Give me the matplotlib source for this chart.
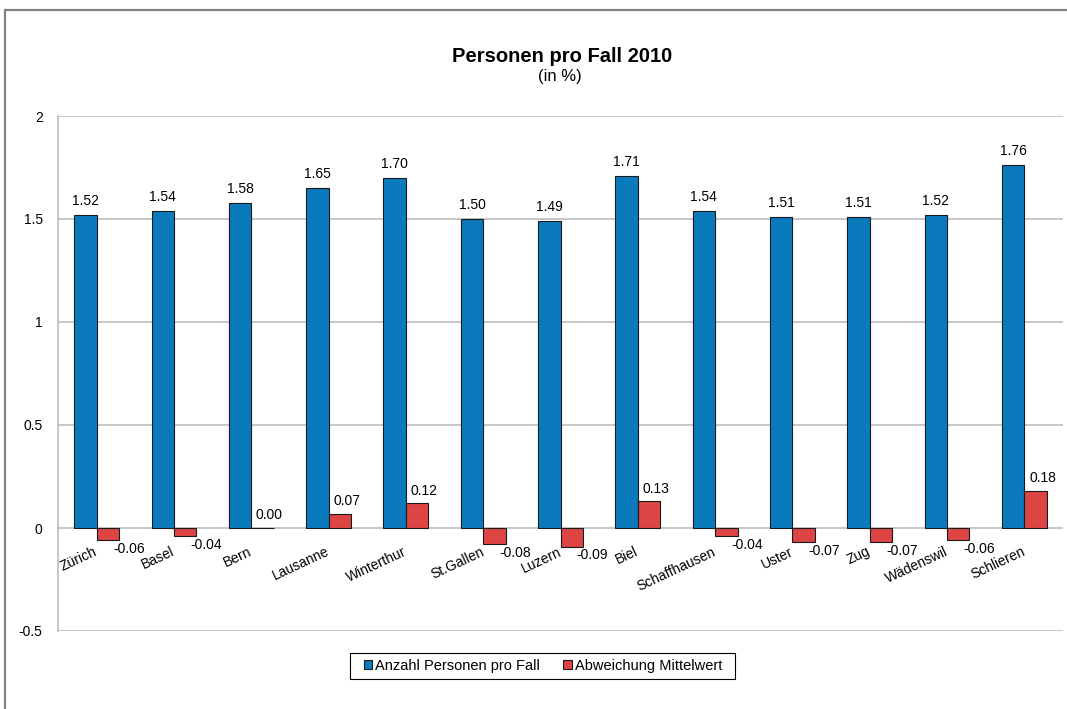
import matplotlib
matplotlib.use("Agg")
import matplotlib.pyplot as plt
from matplotlib.patches import Rectangle
import numpy as np

plt.rcParams['font.family'] = ['Liberation Sans', 'DejaVu Sans']

# Data
cities = ['Zürich', 'Basel', 'Bern', 'Lausanne', 'Winterthur', 'St.Gallen', 'Luzern',
          'Biel', 'Schaffhausen', 'Uster', 'Zug', 'Wädenswil', 'Schlieren']
personen = [1.52, 1.54, 1.58, 1.65, 1.70, 1.50, 1.49, 1.71, 1.54, 1.51, 1.51, 1.52, 1.76]
abweichung = [-0.06, -0.04, 0.00, 0.07, 0.12, -0.08, -0.09, 0.13, -0.04, -0.07, -0.07, -0.06, 0.18]

blue = '#0A7ABD'
red = '#DD4444'
grid_col = '#BEBEBE'

fig = plt.figure(figsize=(10.67, 7.09), dpi=100)
ax = fig.add_axes([58 / 1067, 1 - 631 / 709, 1005 / 1067, 515 / 709])

# outer chart border
fig.patches.append(Rectangle((5 / 1067, -0.02), 1.1, 1 - 10 / 709 + 0.02, transform=fig.transFigure,
                             fill=False, edgecolor='#808080', linewidth=1.6))

x = np.arange(len(cities))
w = 0.29
b1 = ax.bar(x - w / 2, personen, w, color=blue, edgecolor='#1a1a1a', linewidth=0.8,
            label='Anzahl Personen pro Fall', zorder=3)
b2 = ax.bar(x + w / 2, abweichung, w, color=red, edgecolor='#1a1a1a', linewidth=0.8,
            label='Abweichung Mittelwert', zorder=3)

ax.set_xlim(-0.5, len(cities) - 0.5)
ax.set_ylim(-0.5, 2)
ax.set_yticks([-0.5, 0, 0.5, 1, 1.5, 2])
ax.set_yticklabels(['-0.5', '0', '0.5', '1', '1.5', '2'])
ax.set_xticks([])
ax.tick_params(axis='y', length=0, pad=11, labelsize=10)
ax.yaxis.grid(True, color=grid_col, linewidth=1.2, zorder=0)
for s in ['top', 'right', 'bottom']:
    ax.spines[s].set_visible(False)
ax.spines['left'].set_color(grid_col)
ax.spines['left'].set_linewidth(1.2)

# value labels
for i, v in enumerate(personen):
    ax.annotate(f'{v:.2f}', (x[i] - w / 2, v), xytext=(0, 5), textcoords='offset points',
                ha='center', va='bottom', fontsize=10)
for i, v in enumerate(abweichung):
    if v >= 0:
        ax.annotate(f'{v:.2f}', (x[i] + w / 2 + 0.09, v), xytext=(0, 4), textcoords='offset points',
                    ha='center', va='bottom', fontsize=10)
    else:
        ax.annotate(f'{v:.2f}', (x[i] + w / 2 + 0.27, v), xytext=(0, -1), textcoords='offset points',
                    ha='center', va='top', fontsize=10)

# category labels at the zero line
for i, c in enumerate(cities):
    ax.annotate(c, (x[i] - 0.04, 0), xytext=(0, -12), textcoords='offset points',
                ha='right', va='top', rotation=25, rotation_mode='anchor', fontsize=10)

fig.text(562 / 1067, 1 - 56 / 709, 'Personen pro Fall 2010', ha='center', va='center',
         fontsize=14.5, fontweight='bold')
fig.text(560 / 1067, 1 - 77 / 709, '(in %)', ha='center', va='center', fontsize=12)

leg = fig.legend(handles=[b1, b2], loc='center', bbox_to_anchor=(543 / 1067, 1 - 666 / 709),
                 ncol=2, frameon=False, fontsize=10.5, handlelength=0.6,
                 handleheight=0.6, handletextpad=0.2, columnspacing=1.6)
fig.patches.append(Rectangle((350 / 1067, 1 - 679 / 709), 385 / 1067, 26 / 709,
                             transform=fig.transFigure, fill=False, edgecolor='black',
                             linewidth=0.8))

fig.savefig('out.png', dpi=100)
